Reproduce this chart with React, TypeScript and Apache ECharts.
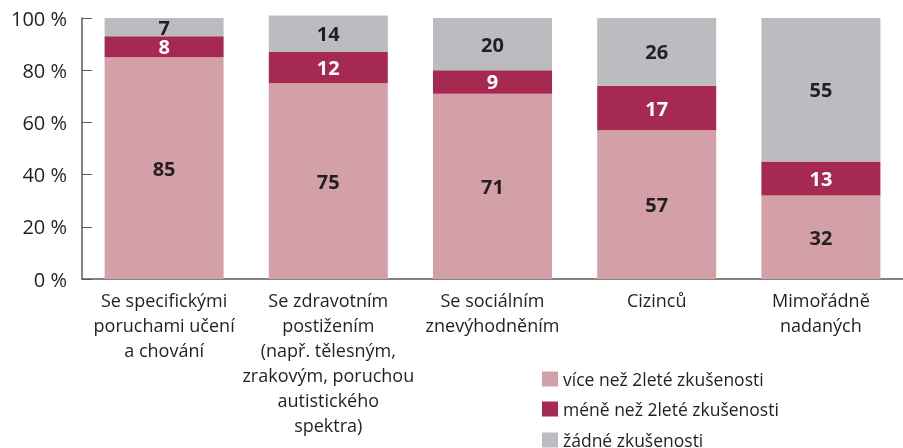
import React, { useEffect, useRef } from "react";
import * as echarts from "echarts";

const categories = [
  "Se specifickými\nporuchami učení\na chování",
  "Se zdravotním\npostižením\n(např. tělesným,\nzrakovým, poruchou\nautistického\nspektra)",
  "Se sociálním\nznevýhodněním",
  "Cizinců",
  "Mimořádně\nnadaných",
];
const seriesNames = [
  "více než 2leté zkušenosti",
  "méně než 2leté zkušenosti",
  "žádné zkušenosti",
];
const moreThan2 = [85, 75, 71, 57, 32];
const lessThan2 = [8, 12, 9, 17, 13];
const none = [7, 14, 20, 26, 55];

const colors = ["#d3a0a8", "#a62952", "#bbbcc0"];
const labelColors = ["#231f20", "#ffffff", "#231f20"];
const FONT = "'Open Sans', sans-serif";

export default function App() {
  const ref = useRef<HTMLDivElement>(null);
  useEffect(() => {
    if (!ref.current) return;
    const chart = echarts.init(ref.current, null, { renderer: "svg" });
    const values = [moreThan2, lessThan2, none];
    const legendTops = [365, 395, 426];
    chart.setOption({
      animation: false,
      textStyle: { fontFamily: FONT },
      grid: { left: 82, top: 18, width: 825, height: 261, containLabel: false },
      legend: seriesNames.map((name, i) => ({
        orient: "vertical",
        left: 537,
        top: legendTops[i],
        itemWidth: 16,
        itemHeight: 15,
        itemGap: 6,
        icon: "rect",
        textStyle: { fontFamily: FONT, fontSize: 17.5, color: "#231f20" },
        data: [name],
      })),
      xAxis: {
        type: "category",
        data: categories,
        axisLine: { lineStyle: { color: "#58595b", width: 1.5 } },
        axisTick: { inside: true, length: 8, lineStyle: { color: "#58595b" } },
        axisLabel: {
          interval: 0,
          margin: 8,
          fontFamily: FONT,
          fontSize: 18,
          lineHeight: 25,
          color: "#231f20",
        },
      },
      yAxis: {
        type: "value",
        min: 0,
        max: 100,
        interval: 20,
        splitLine: { show: false },
        axisLine: { show: true, lineStyle: { color: "#58595b", width: 1.5 } },
        axisTick: { show: true, inside: true, length: 10, lineStyle: { color: "#58595b" } },
        axisLabel: {
          margin: 15,
          fontFamily: FONT,
          fontSize: 20,
          color: "#231f20",
          formatter: (v: number) => v + " %",
        },
      },
      series: seriesNames.map((name, i) => ({
        name,
        type: "bar",
        stack: "total",
        barWidth: 119,
        clip: false,
        data: values[i],
        itemStyle: { color: colors[i] },
        label: {
          show: true,
          position: "inside",
          fontFamily: FONT,
          fontSize: 20,
          fontWeight: "bold",
          color: labelColors[i],
        },
      })),
    });
    return () => chart.dispose();
  }, []);
  return (
    <div
      ref={ref}
      style={{ position: "fixed", left: 0, top: 0, width: 903, height: 448 }}
    />
  );
}
